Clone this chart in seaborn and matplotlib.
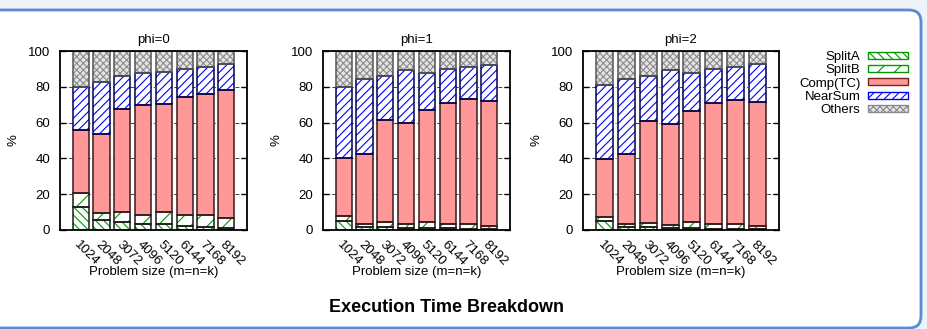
import numpy as np
import matplotlib
matplotlib.use("Agg")
import matplotlib.pyplot as plt
import seaborn as sns
from matplotlib.patches import Patch, FancyBboxPatch

sizes = ["1024", "2048", "3072", "4096", "5120", "6144", "7168", "8192"]
phis = ["phi=0", "phi=1", "phi=2"]
parts = ["SplitA", "SplitB", "Comp(TC)", "NearSum", "Others"]

# cumulative tops (%), per phi
split_a = [
    [12.7, 5.6, 4.5, 3.2, 3.2, 2.4, 1.9, 1.1],
    [4.8, 1.9, 1.5, 1.1, 1.3, 0.9, 0.7, 0.7],
    [4.8, 1.5, 1.5, 0.9, 1.1, 0.7, 0.7, 0.6],
]
split_b = [
    [20.5, 9.3, 10.1, 8.2, 10.2, 8.6, 8.2, 6.5],
    [7.8, 3.4, 4.3, 3.2, 4.5, 3.5, 3.4, 2.4],
    [7.4, 3.2, 4.1, 2.8, 4.3, 3.4, 3.2, 2.4],
]
comp_tc = [
    [55.9, 53.6, 67.6, 69.6, 70.2, 74.3, 76.0, 78.0],
    [40.0, 42.5, 61.3, 59.6, 66.9, 71.1, 73.0, 71.9],
    [39.5, 42.3, 60.7, 59.4, 66.7, 71.0, 72.8, 71.5],
]
near_sum = [
    [79.7, 82.5, 86.0, 87.9, 88.3, 90.1, 90.9, 92.5],
    [80.1, 84.2, 86.0, 89.2, 87.5, 89.8, 90.9, 92.4],
    [80.8, 84.4, 86.2, 89.2, 87.9, 89.8, 90.9, 92.5],
]
others = [
    [100] * 8,
    [100] * 8,
    [100] * 8,
]

styles = {
    "SplitA": dict(face="white", hatch="\\\\\\\\", hc="#009900", ec="#1a1a1a"),
    "SplitB": dict(face="white", hatch="//", hc="#009900", ec="#1a1a1a"),
    "Comp(TC)": dict(face="#ff9999", hatch=None, hc="#7a2020", ec="#3a1a1a"),
    "NearSum": dict(face="white", hatch="////", hc="#0000ff", ec="#000050"),
    "Others": dict(face="#e4e4e4", hatch="xxxxx", hc="#8c8c8c", ec="#555555"),
}

plt.rcParams["font.family"] = ["Liberation Sans", "DejaVu Sans"]
plt.rcParams["hatch.linewidth"] = 0.8
fs = 9.5

fig = plt.figure(figsize=(9.28, 3.29), dpi=100, facecolor="#eef2f9")
frame = FancyBboxPatch((-20, 1), 941, 318, boxstyle="round,pad=0,rounding_size=12",
                       transform=None, facecolor="white", edgecolor="#5a8ad2",
                       linewidth=2, zorder=-10)
fig.patches.append(frame)

W, H = 928, 329
panels = [(60, 187), (323, 187), (583, 196)]
for p, (left, width) in enumerate(panels):
    ax = fig.add_axes([left / W, 1 - 230 / H, width / W, 179 / H])
    ax.set_facecolor("none")
    tops = [split_a[p], split_b[p], comp_tc[p], near_sum[p], others[p]]
    bottom = np.zeros(len(sizes))
    for name, top in zip(parts, tops):
        st = styles[name]
        top = np.array(top, dtype=float)
        sns.barplot(x=sizes, y=top - bottom, bottom=bottom, order=sizes, ax=ax,
                    color=st["face"], hatch=st["hatch"], edgecolor=st["hc"],
                    linewidth=0, width=0.78, errorbar=None, saturation=1, zorder=2)
        sns.barplot(x=sizes, y=top - bottom, bottom=bottom, order=sizes, ax=ax,
                    color=st["ec"], fill=False, linewidth=1.1, width=0.78,
                    errorbar=None, zorder=3)
        bottom = top

    ax.set_xlim(-1, 8)
    ax.set_ylim(0, 100)
    ax.set_yticks([0, 20, 40, 60, 80, 100])
    ax.yaxis.grid(True, linestyle=(0, (4, 2, 1, 2)), color="0.25", linewidth=0.7)
    ax.set_axisbelow(True)
    ax.tick_params(axis="y", direction="in", left=True, right=True, length=4,
                   width=1, labelsize=fs, pad=7)
    ax.tick_params(axis="x", length=0, labelsize=fs, pad=6)
    for lab in ax.get_xticklabels():
        lab.set_rotation(-45)
        lab.set_ha("left")
        lab.set_va("top")
        lab.set_rotation_mode("anchor")
    for s in ax.spines.values():
        s.set_linewidth(1.3)
        s.set_color("black")
        s.set_zorder(4)
    ax.set_title(phis[p], fontsize=fs, pad=6)
    ax.set_ylabel("%", fontsize=fs, labelpad=6)
    ax.set_xlabel("Problem size (m=n=k)", fontsize=fs)
    ax.xaxis.set_label_coords(0.5, -0.2)

handles = []
for name in parts:
    st = styles[name]
    handles.append(Patch(facecolor=st["face"], hatch=st["hatch"], edgecolor=st["hc"],
                         linewidth=1, label=name))
fig.legend(handles=handles, loc="upper right", bbox_to_anchor=(908 / W, 1 - 51 / H),
           markerfirst=False, frameon=False, fontsize=fs, handlelength=3.0,
           handleheight=0.45, labelspacing=0.1, handletextpad=0.6,
           borderpad=0, borderaxespad=0)

fig.text(447 / W, 1 - 307 / H, "Execution Time Breakdown", fontsize=13,
         fontweight="bold", ha="center", va="center")

fig.savefig("out.png", dpi=100, facecolor=fig.get_facecolor())
